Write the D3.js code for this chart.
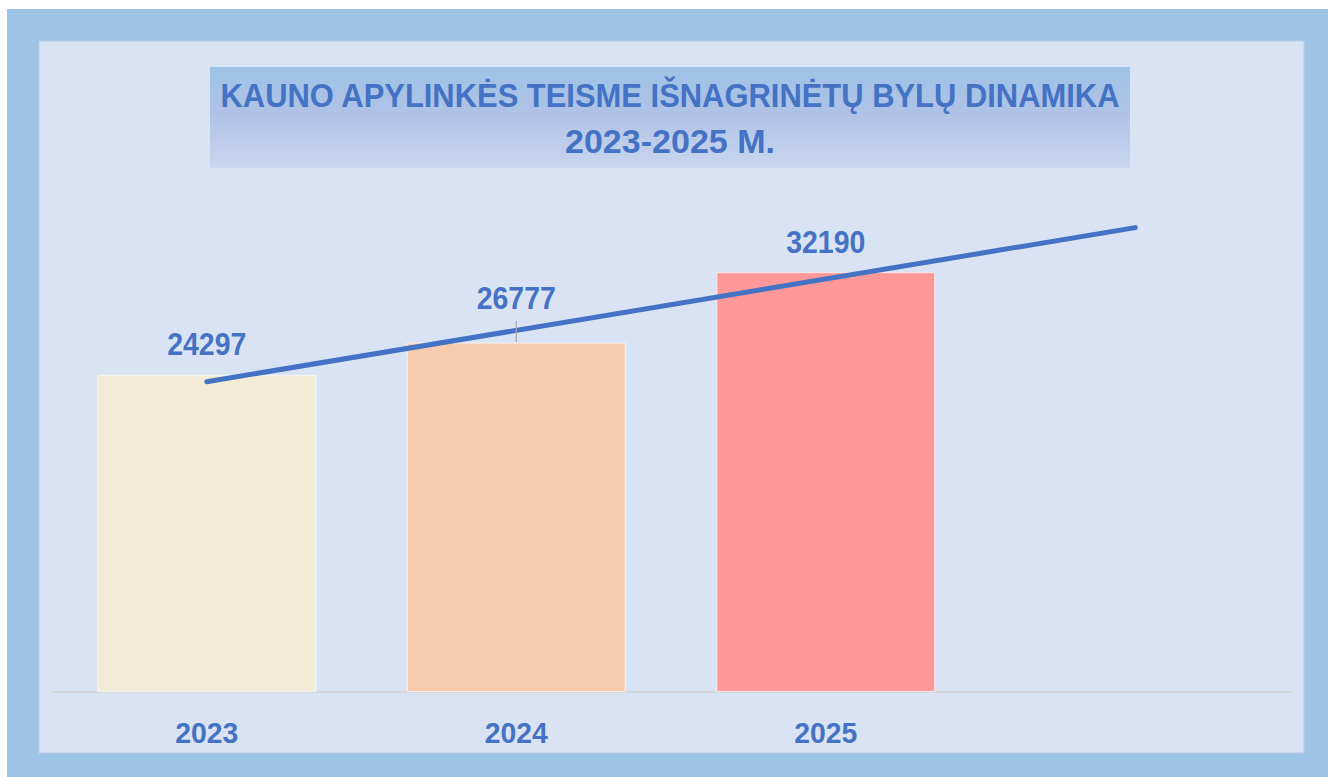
<!DOCTYPE html>
<html>
<head>
<meta charset="utf-8">
<script src="https://cdn.jsdelivr.net/npm/d3@7/dist/d3.min.js"></script>
<style>
  html, body { margin: 0; padding: 0; background: #ffffff; }
  svg { display: block; }
  text { font-family: "Liberation Sans", Arial, sans-serif; font-weight: bold; }
</style>
</head>
<body>
<svg id="chart" width="1328" height="777"></svg>
<script>
// ---- data ----
const categories = ["2023", "2024", "2025", ""];
const years = ["2023", "2024", "2025"];
const values = [24297, 26777, 32190];
const barColors = ["#F2ECD6", "#F8CBAD", "#FF9999"];
const titleLines = ["KAUNO APYLINKĖS TEISME IŠNAGRINĖTŲ BYLŲ DINAMIKA", "2023-2025 M."];

const W = 1328, H = 777;
const svg = d3.select("#chart");
const textColor = "#4472C4";

// frame
svg.append("rect").attr("x", 7).attr("y", 9).attr("width", W - 7).attr("height", H - 9).attr("fill", "#9DC3E6");
svg.append("rect").attr("x", 39).attr("y", 41).attr("width", 1304 - 39).attr("height", 753 - 41)
  .attr("fill", "#DAE3F3").attr("stroke", "#B9CDEA").attr("stroke-width", 1);

// title gradient box
const defs = svg.append("defs");
const grad = defs.append("linearGradient").attr("id", "tg").attr("x1", 0).attr("y1", 0).attr("x2", 0).attr("y2", 1);
grad.append("stop").attr("offset", "0%").attr("stop-color", "#9DC3E6");
grad.append("stop").attr("offset", "45%").attr("stop-color", "#AFC2E6");
grad.append("stop").attr("offset", "100%").attr("stop-color", "#C8D6EE");
svg.append("rect").attr("x", 210).attr("y", 67).attr("width", 920).attr("height", 101).attr("fill", "url(#tg)");

svg.append("text").attr("x", 670).attr("y", 107).attr("text-anchor", "middle")
  .attr("font-size", 33.5).attr("fill", textColor)
  .attr("textLength", 899).attr("lengthAdjust", "spacingAndGlyphs")
  .text(titleLines[0]);
svg.append("text").attr("x", 670).attr("y", 153).attr("text-anchor", "middle")
  .attr("font-size", 33.5).attr("fill", textColor)
  .attr("textLength", 210).attr("lengthAdjust", "spacingAndGlyphs")
  .text(titleLines[1]);

// scales
const x = d3.scaleBand().domain(categories.map((c, i) => i)).range([52, 1290])
  .paddingInner(0.296).paddingOuter(0.148);
const y = d3.scaleLinear().domain([0, 40000]).range([691.5, 171]);

// axis baseline
svg.append("line").attr("x1", 52).attr("x2", 1291).attr("y1", 692).attr("y2", 692)
  .attr("stroke", "#D2D2D2").attr("stroke-width", 1.5);

// bars
svg.selectAll("rect.bar").data(values).enter().append("rect")
  .attr("class", "bar")
  .attr("x", (d, i) => x(i))
  .attr("y", d => y(d))
  .attr("width", x.bandwidth())
  .attr("height", d => y(0) - y(d))
  .attr("fill", (d, i) => barColors[i])
  .attr("stroke", "#FFFFFF").attr("stroke-opacity", 0.55).attr("stroke-width", 1.2);

// category labels
svg.selectAll("text.cat").data(years).enter().append("text")
  .attr("class", "cat")
  .attr("x", (d, i) => x(i) + x.bandwidth() / 2)
  .attr("y", 743)
  .attr("text-anchor", "middle").attr("font-size", 29.5).attr("fill", textColor)
  .attr("textLength", 63).attr("lengthAdjust", "spacingAndGlyphs")
  .text(d => d);

// linear trendline with one period forecast
const xs = values.map((d, i) => i + 1);
const mx = d3.mean(xs), my = d3.mean(values);
const slope = d3.sum(xs.map((xv, i) => (xv - mx) * (values[i] - my))) / d3.sum(xs.map(xv => (xv - mx) ** 2));
const intercept = my - slope * mx;
const trendPts = [0, categories.length - 1].map(i => [x(i) + x.bandwidth() / 2, y(intercept + slope * (i + 1))]);
svg.append("path").attr("d", d3.line()(trendPts))
  .attr("stroke", "#4472C4").attr("stroke-width", 5).attr("stroke-linecap", "round").attr("fill", "none");

// data labels (the second one is moved up with a leader line)
const labelShift = [0, 14, 0];
svg.selectAll("line.leader").data(values.filter((d, i) => labelShift[i] > 0)).enter().append("line")
  .attr("class", "leader")
  .attr("x1", x(1) + x.bandwidth() / 2).attr("x2", x(1) + x.bandwidth() / 2)
  .attr("y1", d => y(d) - 22).attr("y2", d => y(d) - 1)
  .attr("stroke", "#A6A6A6").attr("stroke-width", 1.2);
svg.selectAll("text.val").data(values).enter().append("text")
  .attr("class", "val")
  .attr("x", (d, i) => x(i) + x.bandwidth() / 2)
  .attr("y", (d, i) => y(d) - 20 - labelShift[i])
  .attr("text-anchor", "middle").attr("font-size", 30.5).attr("fill", textColor)
  .attr("textLength", 79).attr("lengthAdjust", "spacingAndGlyphs")
  .text(d => d);
</script>
</body>
</html>
